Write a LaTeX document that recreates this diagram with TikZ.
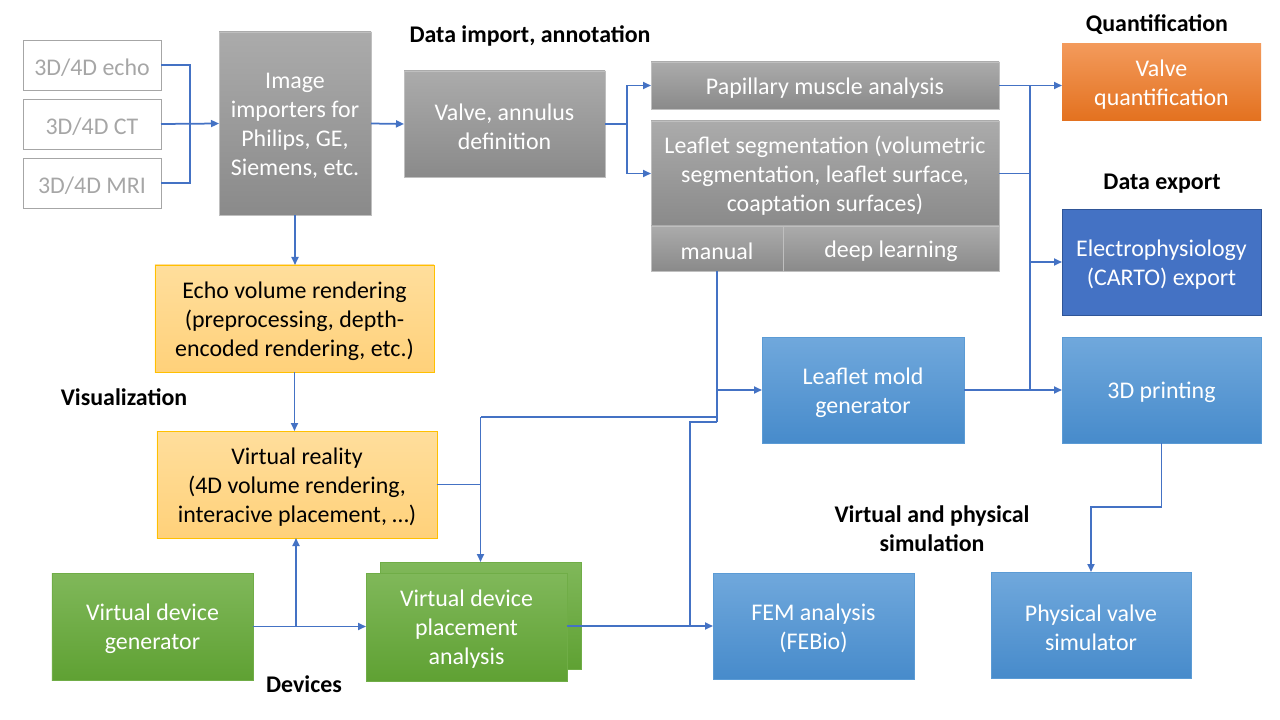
\documentclass[tikz,border=0pt]{standalone}
\usepackage{fontspec}
\setmainfont{Carlito}
\usetikzlibrary{arrows.meta}
\definecolor{ln}{HTML}{4472C4}
\definecolor{grT}{HTML}{ABABAB}
\definecolor{grB}{HTML}{8A8A8A}
\definecolor{grE}{HTML}{BFBFBF}
\definecolor{orT}{HTML}{F39A5B}
\definecolor{orB}{HTML}{E3711F}
\definecolor{blT}{HTML}{70A8DC}
\definecolor{blB}{HTML}{478BCB}
\definecolor{blE}{HTML}{5B9BD5}
\definecolor{gnT}{HTML}{80B85A}
\definecolor{gnB}{HTML}{5FA133}
\definecolor{gnE}{HTML}{70AD47}
\definecolor{goT}{HTML}{FFDE9C}
\definecolor{goB}{HTML}{FFD17A}
\definecolor{goE}{HTML}{FFC000}
\definecolor{dbF}{HTML}{4472C4}
\definecolor{dbE}{HTML}{2F5597}
\definecolor{inE}{HTML}{A6A6A6}
\newcommand\boxtext[3][white]{\node[btxt, text=#1] (#2t) at ([yshift=-2.5bp]#2.center) {#3};}
\begin{document}
\begin{tikzpicture}[x=1bp,y=-1bp,
  every node/.style={font=\fontsize{24}{29}\selectfont, align=center, inner sep=0pt, outer sep=0pt},
  btxt/.style={},
  inbox/.style={draw=inE, line width=0.9bp},
  graybox/.style={draw=grE, line width=0.75bp, top color=grT, bottom color=grB},
  orbox/.style={top color=orT, bottom color=orB},
  blbox/.style={draw=blE, line width=0.75bp, top color=blT, bottom color=blB},
  gnbox/.style={draw=gnE, line width=0.75bp, top color=gnT, bottom color=gnB},
  gobox/.style={draw=goE, line width=0.9bp, top color=goT, bottom color=goB},
  dbbox/.style={draw=dbE, line width=0.9bp, fill=dbF},
  lbl/.style={font=\fontsize{24}{29}\selectfont\bfseries, text=black},
  conn/.style={draw=ln, line width=1.75bp},
  arr/.style={conn, -{Triangle[length=8bp,width=7bp]}}
]
\useasboundingbox (0,0) rectangle (1280,720);

% inputs
\node[inbox, minimum width=138bp, minimum height=50bp] (echo) at (92,65) {};
\node[inbox, minimum width=138bp, minimum height=50bp] (ct) at (92,124) {};
\node[inbox, minimum width=138bp, minimum height=50bp] (mri) at (92,183) {};
\boxtext[inE]{echo}{3D/4D echo}
\boxtext[inE]{ct}{3D/4D CT}
\boxtext[inE]{mri}{3D/4D MRI}

% gray boxes
\node[graybox, minimum width=152bp, minimum height=183bp] (imp) at (295,123.5) {};
\node[graybox, minimum width=201bp, minimum height=106bp] (vad) at (504.5,124) {};
\node[graybox, minimum width=348bp, minimum height=47bp] (pap) at (825,85.5) {};
\node[graybox, minimum width=348bp, minimum height=105bp] (seg) at (825,173.5) {};
\node[graybox, minimum width=132bp, minimum height=45bp] (man) at (717,248.5) {};
\node[graybox, minimum width=216bp, minimum height=45bp] (deep) at (891,248.5) {};
\boxtext{imp}{Image\\importers for\\Philips, GE,\\Siemens, etc.}
\boxtext{vad}{Valve, annulus\\definition}
\boxtext{pap}{Papillary muscle analysis}
\boxtext{seg}{Leaflet segmentation (volumetric\\segmentation, leaflet surface,\\coaptation surfaces)}
\boxtext{man}{manual}
\boxtext{deep}{deep learning}

% right column
\node[orbox, minimum width=199bp, minimum height=77bp] (vq) at (1161.5,82.5) {};
\node[dbbox, minimum width=199bp, minimum height=106bp] (ep) at (1161.5,262) {};
\node[blbox, minimum width=199bp, minimum height=106bp] (pr) at (1161.5,390) {};
\node[blbox, minimum width=202bp, minimum height=106bp] (mold) at (863,390) {};
\node[blbox, minimum width=201bp, minimum height=106bp] (fem) at (813.5,626) {};
\node[blbox, minimum width=200bp, minimum height=106bp] (pvs) at (1091,625) {};
\boxtext{vq}{Valve\\quantification}
\boxtext{ep}{Electrophysiology\\(CARTO) export}
\boxtext{pr}{3D printing}
\boxtext{mold}{Leaflet mold\\generator}
\boxtext{fem}{FEM analysis\\(FEBio)}
\boxtext{pvs}{Physical valve\\simulator}

% visualization
\node[gobox, minimum width=279bp, minimum height=107bp] (evr) at (294.5,318.5) {};
\node[gobox, minimum width=280bp, minimum height=107bp] (vr) at (297,484.5) {};
\boxtext[black]{evr}{Echo volume rendering\\(preprocessing, depth-\\encoded rendering, etc.)}
\boxtext[black]{vr}{Virtual reality\\(4D volume rendering,\\interacive placement, \dots)}

% devices
\node[gnbox, minimum width=201bp, minimum height=107bp] (vdg) at (152.5,626.5) {};
\node[gnbox, minimum width=201bp, minimum height=107bp] (vdpb) at (480.5,615.5) {};
\node[gnbox, minimum width=201bp, minimum height=108bp] (vdp) at (466.5,627) {};
\boxtext{vdg}{Virtual device\\generator}
\boxtext{vdp}{Virtual device\\placement\\analysis}

% labels
\node[lbl] (l1) at (530,35.5) {Data import, annotation};
\node[lbl] (l2) at (1157,24.5) {Quantification};
\node[lbl] (l3) at (1162,184) {Data export};
\node[lbl] (l4) at (124,397) {Visualization};
\node[lbl] (l5) at (932,529) {Virtual and physical\\simulation};
\node[lbl] (l6) at (304,684) {Devices};

% connectors
\coordinate (b1) at (190,124);
\draw[conn] (echo.east) -| (b1);
\draw[conn] (mri.east) -| (b1);
\draw[arr] (ct.east) -- (imp.west);
\draw[arr] (imp.east) -- (vad.west);
\coordinate (b2) at (627,124);
\draw[arr] (vad.east) -- (b2) |- (pap.west);
\draw[arr] (b2) |- (seg.west);
\coordinate (b3t) at (1030,85.5);
\coordinate (b3b) at (1030,390);
\draw[arr] (pap.east) -- (vq.west |- pap.east);
\draw[conn] (b3t) -- (b3b);
\draw[conn] (seg.east) -- (seg.east -| b3t);
\draw[arr] (b3t |- ep.west) -- (ep.west);
\draw[arr] (mold.east) -- (pr.west);
% manual branch
\coordinate (m1) at (717,417);
\coordinate (m2) at (717,422);
\coordinate (m3) at (690,422);
\draw[conn] (man.south) -- (m2);
\draw[arr] (man.south |- mold.west) -- (mold.west);
\coordinate (v1) at (480.5,417);
\draw[conn] (m1) -- (v1);
\draw[arr] (v1) -- (vdpb.north);
\draw[conn] (vr.east) -- (vr.east -| v1);
\draw[conn] (m2) -- (m3) -- (m3 |- fem.west);
\draw[arr] (vdp.east |- fem.west) -- (fem.west);
% devices
\coordinate (j1) at (296,626.5);
\draw[arr] (vdg.east) -- (vdp.west |- vdg.east);
\draw[arr] (j1) -- (j1 |- vr.south);
% vertical chain
\draw[arr] (imp.south) -- (imp.south |- evr.north);
\draw[arr] (evr.south) -- (evr.south |- vr.north);
% printing to simulator
\coordinate (p1) at (1161.5,507);
\draw[arr] (pr.south) -- (p1) -| (pvs.north);
\end{tikzpicture}
\end{document}
